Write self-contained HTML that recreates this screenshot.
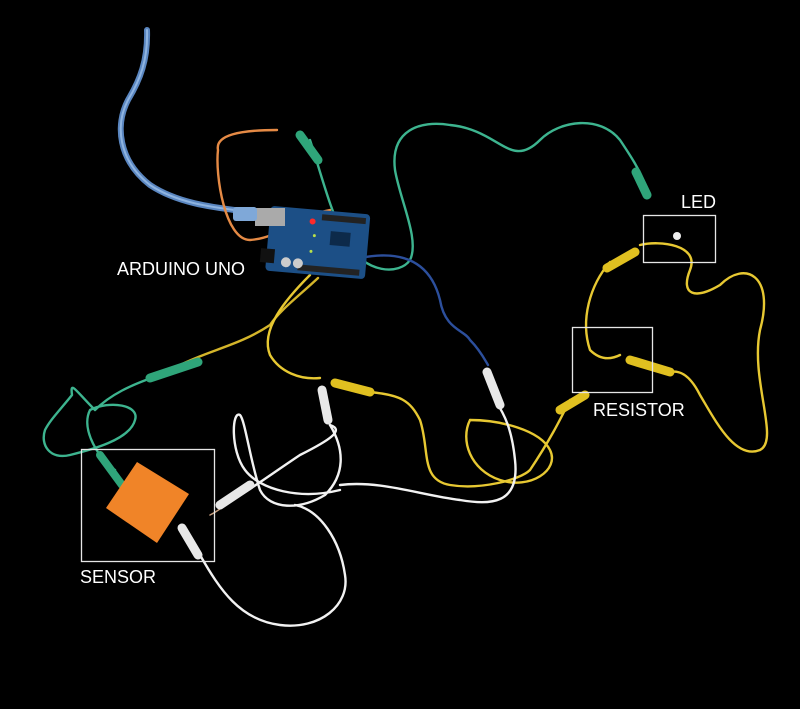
<!DOCTYPE html>
<html><head><meta charset="utf-8"><style>
html,body{margin:0;padding:0;background:#000;}
svg{display:block}
text{font-family:"Liberation Sans",sans-serif;fill:#fff;}
</style></head><body>
<svg width="800" height="709" viewBox="0 0 800 709" xmlns="http://www.w3.org/2000/svg">
<rect width="800" height="709" fill="#000"/>
<g fill="none" stroke-linecap="round" stroke-linejoin="round">
<path d="M147 30 C148 60 140 80 128 100 C115 125 118 160 150 185 C180 205 220 208 250 212 L275 215" stroke="#5a86c0" stroke-width="6"/>
<path d="M147 30 C148 60 140 80 128 100 C115 125 118 160 150 185 C180 205 220 208 250 212 L275 215" stroke="#8fb4e0" stroke-width="2"/>
<path d="M277 130 C240 130 215 135 218 150 C215 175 225 240 250 240 C280 238 300 215 330 210" stroke="#e58a45" stroke-width="2.4"/>
<path d="M310 140 C320 170 330 210 345 240 C365 275 400 275 410 260 C420 240 400 200 395 170 C390 130 420 120 450 125 C500 130 510 170 540 140 C560 120 600 115 620 140 C630 155 640 170 645 185" stroke="#3db48f" stroke-width="2.4"/>
<path d="M360 258 C400 250 430 260 440 300 C445 330 465 330 470 340 C480 350 485 360 488 365" stroke="#2c4f9c" stroke-width="2.4"/>
<path d="M318 278 C300 295 280 310 270 325 C240 345 210 350 180 365" stroke="#d4b52a" stroke-width="2.4"/>
<path d="M310 275 C285 300 260 330 270 355 C280 372 300 380 320 378" stroke="#e7c832" stroke-width="2.4"/>
<path d="M370 392 C400 395 410 400 420 420 C430 450 420 480 450 485 C480 490 520 480 530 470 C550 440 560 420 570 400" stroke="#e7c832" stroke-width="2.4"/>
<path d="M470 420 C460 440 470 470 500 480 C530 490 560 470 550 450 C540 430 500 420 470 420" stroke="#e7c832" stroke-width="2.4"/>
<path d="M610 262 C590 285 580 320 590 350 C600 360 610 360 620 355" stroke="#e7c832" stroke-width="2.4"/>
<path d="M640 245 C660 240 700 245 690 270 C680 295 695 300 720 285 C745 260 775 275 760 330 C750 380 780 440 760 450 C735 460 715 420 700 395 C690 375 680 370 670 372" stroke="#e7c832" stroke-width="2.4"/>
<path d="M160 375 C130 385 110 395 95 410 C75 390 70 380 72 395 C60 410 50 420 45 430 C40 445 50 460 70 455 C90 450 130 440 135 420 C140 405 110 400 90 410 C80 430 100 460 115 470" stroke="#3db48f" stroke-width="2.4"/>
<!-- white wires -->
<path d="M232 500 C250 490 270 475 300 455 C330 440 345 430 330 425" stroke="#f2f2f2" stroke-width="2.4"/>
<path d="M330 425 C345 450 345 475 325 495 C300 510 270 510 260 490 C250 460 245 420 240 415 C232 410 230 450 245 470 C260 490 300 500 340 490" stroke="#f2f2f2" stroke-width="2.4"/>
<path d="M340 485 C380 480 420 495 460 500 C490 505 520 505 515 460 C512 430 505 415 495 400" stroke="#f2f2f2" stroke-width="2.4"/>
<path d="M200 555 C220 590 240 620 280 625 C320 630 350 605 345 575 C340 540 320 510 295 505" stroke="#f2f2f2" stroke-width="2.4"/>
<path d="M210 515 C220 510 225 505 232 500" stroke="#c9a080" stroke-width="1.5"/>
</g>
<g transform="rotate(5 318 240)">
<rect x="268" y="210" width="100" height="65" rx="4" fill="#1c4f86"/>
<rect x="320" y="214" width="44" height="6" fill="#222"/>
<rect x="300" y="266" width="62" height="6" fill="#222"/>
<rect x="330" y="230" width="20" height="14" fill="#0d2a4a"/>
<circle cx="311" cy="222" r="3" fill="#ff2a2a"/>
<circle cx="314" cy="236" r="1.5" fill="#b8e04a"/>
<circle cx="312" cy="252" r="1.5" fill="#b8e04a"/>
<circle cx="288" cy="265" r="5" fill="#ccc"/>
<circle cx="300" cy="265" r="5" fill="#ccc"/>
<rect x="262" y="253" width="14" height="14" fill="#111"/>
</g>
<rect x="255" y="208" width="30" height="18" fill="#aaa"/>
<rect x="233" y="207" width="24" height="14" rx="3" fill="#7fa8d8"/>
<g stroke-linecap="round">
<path d="M300 135 L318 160" stroke="#2fa57a" stroke-width="9"/>
<path d="M636 172 L647 195" stroke="#2fa57a" stroke-width="9"/>
<path d="M150 378 L198 362" stroke="#2fa57a" stroke-width="9"/>
<path d="M100 455 L122 485" stroke="#2fa57a" stroke-width="8"/>
<path d="M607 268 L635 252" stroke="#e0c020" stroke-width="9"/>
<path d="M630 360 L670 372" stroke="#e0c020" stroke-width="9"/>
<path d="M560 410 L585 395" stroke="#e0c020" stroke-width="9"/>
<path d="M335 383 L370 392" stroke="#e0c020" stroke-width="9"/>
<path d="M322 390 L328 420" stroke="#e8e8e8" stroke-width="9"/>
<path d="M487 372 L500 405" stroke="#e8e8e8" stroke-width="9"/>
<path d="M220 505 L250 485" stroke="#e8e8e8" stroke-width="9"/>
<path d="M182 528 L198 555" stroke="#e8e8e8" stroke-width="9"/>
</g>
<circle cx="677" cy="236" r="4" fill="#eee"/>
<polygon points="137,462 189,494 157,543 106,508" fill="#f08428"/>
<g fill="none" stroke="#e6e6e6" stroke-width="1.3">
<rect x="643.5" y="215.5" width="72" height="47"/>
<rect x="572.5" y="327.5" width="80" height="65"/>
<rect x="81.5" y="449.5" width="133" height="112"/>
</g>
<text x="117" y="275" font-size="18">ARDUINO UNO</text>
<text x="681" y="208" font-size="18">LED</text>
<text x="593" y="416" font-size="18">RESISTOR</text>
<text x="80" y="583" font-size="18">SENSOR</text>
</svg>
</body></html>
